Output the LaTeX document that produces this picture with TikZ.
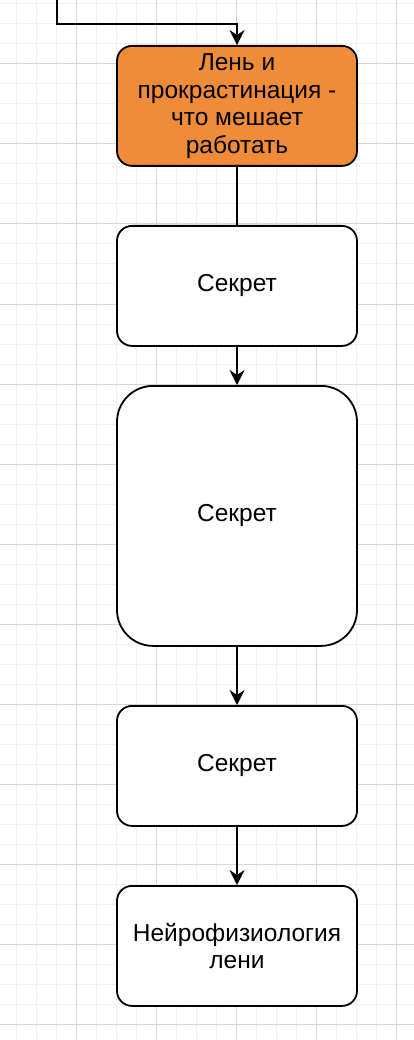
\documentclass[tikz,border=0pt]{standalone}
\usepackage{fontspec}
\setmainfont{Liberation Sans}
\usetikzlibrary{arrows.meta}
\definecolor{gridminor}{HTML}{F0F0F0}
\definecolor{gridmajor}{HTML}{D6D6D6}
\definecolor{orangefill}{HTML}{F08C38}
\begin{document}
\begin{tikzpicture}[x=1pt,y=-1pt,
  box/.style={draw=black, line width=1.8pt, fill=white, minimum width=240pt, anchor=north, inner sep=0pt, align=center, font=\fontsize{24.5}{27.5}\selectfont},
  conn/.style={line width=1.8pt, draw=black},
  arr/.style={conn, -{Stealth[length=15pt,width=15pt,inset=5pt]}}]
\useasboundingbox (0,0) rectangle (414,1040);
\fill[white] (0,0) rectangle (414,1040);
\foreach \x in {16,36,...,414} \draw[gridminor, line width=1pt] (\x,0) -- (\x,1040);
\foreach \y in {4,24,...,1040} \draw[gridminor, line width=1pt] (0,\y) -- (414,\y);
\foreach \x in {76,156,...,414} \draw[gridmajor, line width=1pt] (\x,0) -- (\x,1040);
\foreach \y in {64,144,...,1040} \draw[gridmajor, line width=1pt] (0,\y) -- (414,\y);
\node[box, fill=orangefill, minimum height=120pt, rounded corners=15pt] (b1) at (237,45) {\raisebox{-2pt}{\parbox{230pt}{\centering Лень и\\прокрастинация -\\что мешает\\работать}}};
\node[box, minimum height=120pt, rounded corners=15pt] (b2) at (237,225) {\raisebox{-2pt}{Секрет}};
\node[box, minimum height=260pt, rounded corners=36pt] (b3) at (237,385) {\raisebox{-2pt}{Секрет}};
\node[box, minimum height=120pt, rounded corners=15pt] (b4) at (237,705) {\raisebox{-2pt}{Секрет}};
\node[box, minimum height=120pt, rounded corners=15pt] (b5) at (237,885) {Нейрофизиология\\лени};
\coordinate (s) at (57,0);
\coordinate (c1) at (57,24);
\coordinate (c2) at (237,24);
\draw[arr] (s) -- (c1) -- (c2) -- (b1.north);
\draw[conn] (b1.south) -- (b2.north);
\draw[arr] (b2.south) -- (b3.north);
\draw[arr] (b3.south) -- (b4.north);
\draw[arr] (b4.south) -- (b5.north);
\end{tikzpicture}
\end{document}
